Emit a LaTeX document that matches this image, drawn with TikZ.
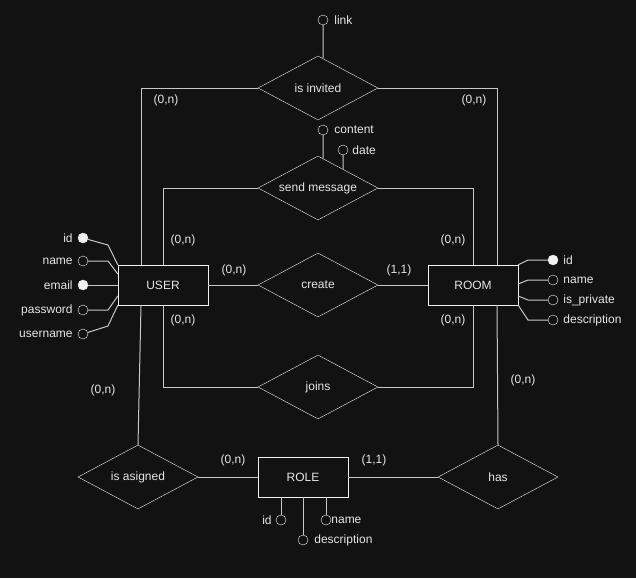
\documentclass[tikz,border=0pt]{standalone}
\usepackage{fontspec}
\setmainfont{Liberation Sans}
\usetikzlibrary{shapes.geometric,calc}
\definecolor{bgdark}{HTML}{121212}
\definecolor{ink}{HTML}{F0F0F0}
\definecolor{edge}{HTML}{C8C8C8}
\definecolor{txt}{HTML}{E6E6E6}
\begin{document}
\begin{tikzpicture}[x=1pt, y=-1pt,
            font=\fontsize{12}{14}\selectfont,
            every node/.style={text=txt},
            every label/.style={inner sep=0pt},
            entity/.style={draw=ink, fill=bgdark, minimum width=90pt, minimum height=40pt, inner sep=0pt},
            relation/.style={draw=ink, fill=bgdark, diamond, shape aspect=1.9, inner sep=0pt,
                minimum width=120pt, minimum height=64pt},
            attr/.style={draw=ink, fill=bgdark, circle, minimum size=10pt, inner sep=0pt},
            key/.style={attr, fill=ink},
            card/.style={inner sep=0pt},
            conn/.style={draw=edge, line width=1pt}]
            \useasboundingbox (0,0) rectangle (636,578);
            \fill[bgdark] (0,0) rectangle (636,578);

            \node[entity] (user) at (163,285) {USER};
            \node[entity] (room) at (473,285) {ROOM};
            \node[entity] (role) at (303,477) {ROLE};
            \node[relation] (invited) at (318,88) {is invited};
            \node[relation] (message) at (318,188) {send message};
            \node[relation] (create) at (318,285) {create};
            \node[relation] (joins) at (318,387) {joins};
            \node[relation] (asigned) at (138,477) {is asigned};
            \node[relation] (has) at (498,477) {has};

            \draw[conn] (invited.west) -| ([xshift=-22pt]user.north);
            \draw[conn] (invited.east) -| ([xshift=24pt]room.north);
            \draw[conn] (message.west) -| (user.north);
            \draw[conn] (message.east) -| (room.north);
            \draw[conn] (user.east) -- (create.west);
            \draw[conn] (create.east) -- (room.west);
            \draw[conn] (user.south) |- (joins.west);
            \draw[conn] (joins.east) -| (room.south);
            \draw[conn] ([xshift=-22pt]user.south) -- (asigned.north);
            \draw[conn] ([xshift=24pt]room.south) -- (has.north);
            \draw[conn] (asigned.east) -- (role.west);
            \draw[conn] (role.east) -- (has.west);

            \node[card] (inv-u) at (166,100) {(0,n)};
            \node[card] (inv-r) at (474,100) {(0,n)};
            \node[card] (msg-u) at (183,240) {(0,n)};
            \node[card] (msg-r) at (453,240) {(0,n)};
            \node[card] (cre-u) at (234,270) {(0,n)};
            \node[card] (cre-r) at (399,270) {(1,1)};
            \node[card] (join-u) at (183,320) {(0,n)};
            \node[card] (join-r) at (453,320) {(0,n)};
            \node[card] (asg-u) at (103,390) {(0,n)};
            \node[card] (has-r) at (523,380) {(0,n)};
            \node[card] (asg-ro) at (233,460) {(0,n)};
            \node[card] (has-ro) at (374,460) {(1,1)};

            \node[key, label={[label distance=5pt]left:id}] (u-id) at (83,238) {};
            \node[attr, label={[label distance=5pt]left:name}] (u-name) at (83,261) {};
            \node[key, label={[label distance=5pt]left:email}] (u-email) at (83,285) {};
            \node[attr, label={[label distance=5pt]left:password}] (u-pass) at (83,310) {};
            \node[attr, label={[label distance=5pt]left:username}] (u-username) at (83,334) {};
            \draw[conn] (u-id) -- (108,245) -- (user.north west);
            \draw[conn] (u-name) -- (108,261) -- ([yshift=11pt]user.west);
            \draw[conn] (u-email) -- (user.west);
            \draw[conn] (u-pass) -- (108,310) -- ([yshift=-11pt]user.west);
            \draw[conn] (u-username) -- (108,326) -- (user.south west);

            \node[key, label={[label distance=5pt]right:id}] (r-id) at (553,260) {};
            \node[attr, label={[label distance=5pt]right:name}] (r-name) at (553,280) {};
            \node[attr, label={[label distance=5pt]right:is\_private}] (r-private) at (553,300) {};
            \node[attr, label={[label distance=5pt]right:description}] (r-desc) at (553,320) {};
            \draw[conn] (r-id) -- (528,260) -- (room.north east);
            \draw[conn] (r-name) -- (528,280) -- ([yshift=1pt]room.east);
            \draw[conn] (r-private) -- (528,300) -- ([yshift=-11pt]room.east);
            \draw[conn] (r-desc) -- (528,320) -- (room.south east);

            \node[attr, label={[label distance=6pt]right:link}] (link) at (323,20) {};
            \node[attr, label={[label distance=6pt]right:content}] (content) at (323,130) {};
            \node[attr, label={[label distance=4pt]right:date}] (date) at (343,150) {};
            \draw[conn] (link) -- ($(invited.north)!0.083!(invited.east)$);
            \draw[conn] (content) -- ($(message.north)!0.083!(message.east)$);
            \draw[conn] (date) -- ($(message.north)!0.417!(message.east)$);

            \node[attr, label={[label distance=4pt]left:id}] (ro-id) at (281,520) {};
            \node[attr, label={[label distance=6pt]right:description}] (ro-desc) at (303,540) {};
            \node[attr, label={[label distance=0pt]right:name}] (ro-name) at (326,520) {};
            \draw[conn] (ro-id) -- (ro-id |- role.south);
            \draw[conn] (ro-desc) -- (ro-desc |- role.south);
            \draw[conn] (ro-name) -- (ro-name |- role.south);
        \end{tikzpicture}
\end{document}
